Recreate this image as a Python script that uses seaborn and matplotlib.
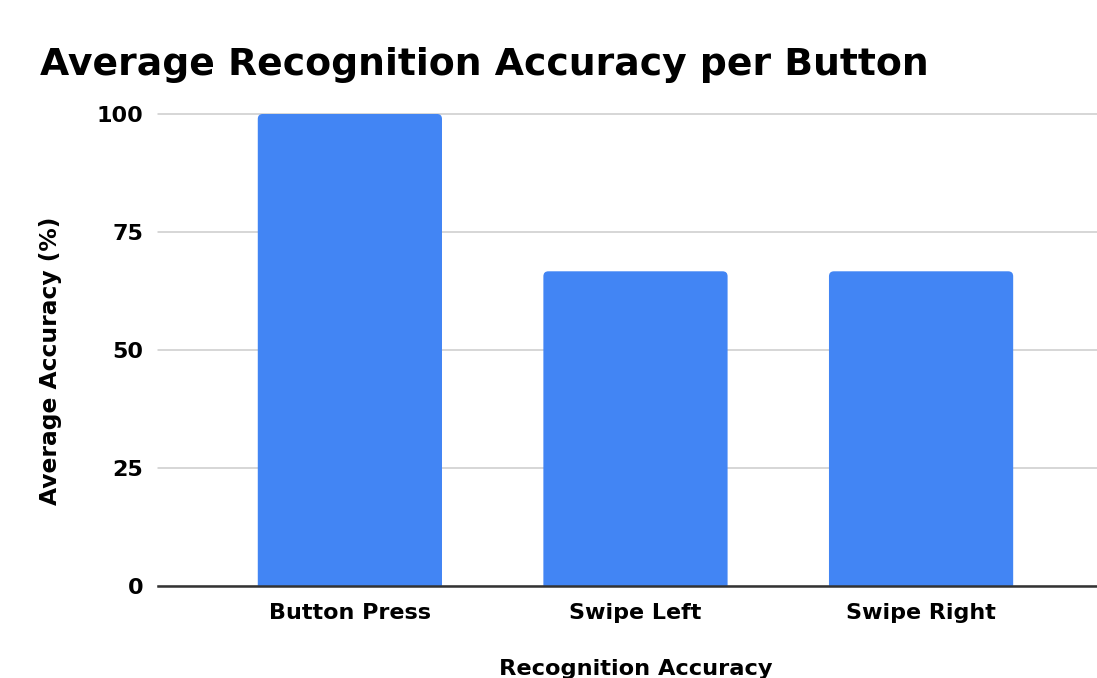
import matplotlib
matplotlib.use("Agg")
import matplotlib.pyplot as plt
from matplotlib.patches import FancyBboxPatch
import seaborn as sns
import pandas as pd

categories = ["Button Press", "Swipe Left", "Swipe Right"]
accuracy = [100.0, 66.67, 66.67]
yticks = [0, 25, 50, 75, 100]

df = pd.DataFrame({"Gesture": categories, "Accuracy": accuracy})

sns.set_theme(style="white")
plt.rcParams['font.family'] = ['DejaVu Sans']

W, H = 1097, 678
fig = plt.figure(figsize=(W / 100, H / 100), dpi=100)
ax = fig.add_axes([0.144, 0.1357, 0.856, 0.6962])

sns.barplot(data=df, x="Gesture", y="Accuracy", color="#4285F4", saturation=1,
            width=0.645, ax=ax, zorder=3)

ax.set_ylim(0, 100)
ax.set_xlim(-0.672, 2.616)

# replace bars with versions having slightly rounded top corners
ax_w_px = 0.856 * W
ax_h_px = 0.6962 * H
x_per_px = (2.616 + 0.672) / ax_w_px
y_per_px = 100 / ax_h_px
for p in list(ax.patches):
    x0, w, h = p.get_x(), p.get_width(), p.get_height()
    r = 5 * x_per_px
    fb = FancyBboxPatch((x0, -6 * y_per_px), w, h + 6 * y_per_px,
                        boxstyle=f"round,pad=0,rounding_size={r}",
                        mutation_aspect=y_per_px / x_per_px,
                        facecolor="#4285F4", edgecolor="none", zorder=3)
    ax.add_patch(fb)
    fb.set_clip_path(ax.patch)
    p.set_visible(False)

ax.set_yticks(yticks)
ax.set_yticklabels([str(t) for t in yticks], fontsize=16, fontweight="bold", color="#000000")
ax.set_xticklabels(categories, fontsize=16, fontweight="bold", color="#000000")
ax.tick_params(axis="both", length=0)
ax.tick_params(axis="y", pad=10.5)
ax.tick_params(axis="x", pad=12)

ax.yaxis.grid(True, color="#cccccc", linewidth=1.1, zorder=0)
for gl in ax.get_ygridlines():
    gl.set_clip_on(False)
ax.xaxis.grid(False)
for s in ["top", "right", "left"]:
    ax.spines[s].set_visible(False)
ax.spines["bottom"].set_color("#333333")
ax.spines["bottom"].set_linewidth(1.8)
ax.spines["bottom"].set_zorder(5)

ax.set_xlabel("Recognition Accuracy", fontsize=16.2, fontweight="bold", color="#000000")
ax.set_ylabel("Average Accuracy (%)", fontsize=16.8, fontweight="bold", color="#000000")
ax.xaxis.set_label_coords((636 - 158) / 939, -(678 - 586 - 3) / 472 * 1.0 + 0.0)
ax.xaxis.label.set_va("baseline")
ax.yaxis.set_label_coords((62 - 158) / 939, (586 - 361) / 472)

fig.text(40 / W, 1 - 75 / H, "Average Recognition Accuracy per Button",
         fontsize=27.2, fontweight="bold", color="#000000", ha="left", va="baseline")

fig.savefig("out.png", dpi=100, facecolor="white")
